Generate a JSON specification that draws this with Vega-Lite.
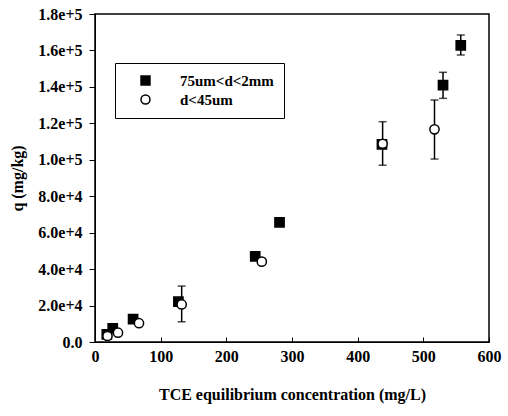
{
  "$schema": "https://vega.github.io/schema/vega-lite/v6.json",
  "width": 394,
  "height": 328,
  "autosize": {"type": "none"},
  "padding": {"left": 95, "top": 14, "right": 19, "bottom": 74},
  "background": "white",
  "config": {
    "view": {"stroke": "black", "strokeWidth": 1.5},
    "font": "Liberation Serif",
    "axis": {
      "grid": false,
      "domainColor": "black",
      "tickColor": "black",
      "labelColor": "black",
      "titleColor": "black",
      "labelFont": "Liberation Serif",
      "titleFont": "Liberation Serif",
      "labelFontSize": 16,
      "titleFontSize": 16,
      "labelFontWeight": "bold",
      "titleFontWeight": "bold",
      "labelOverlap": false,
      "labelFlush": false
    },
    "legend": {
      "labelFont": "Liberation Serif",
      "labelFontSize": 15,
      "labelFontWeight": "bold",
      "labelColor": "black"
    }
  },
  "datasets": {
    "pts": [
      {"c": 18, "q": 4200, "series": "75um<d<2mm"},
      {"c": 27, "q": 7500, "series": "75um<d<2mm"},
      {"c": 58, "q": 12500, "series": "75um<d<2mm"},
      {"c": 127, "q": 22100, "series": "75um<d<2mm"},
      {"c": 244, "q": 47000, "series": "75um<d<2mm"},
      {"c": 281, "q": 65700, "series": "75um<d<2mm"},
      {"c": 437, "q": 108500, "series": "75um<d<2mm"},
      {"c": 530, "q": 141000, "series": "75um<d<2mm"},
      {"c": 557, "q": 162800, "series": "75um<d<2mm"},
      {"c": 19, "q": 3300, "series": "d<45um"},
      {"c": 35, "q": 5100, "series": "d<45um"},
      {"c": 67, "q": 10300, "series": "d<45um"},
      {"c": 132, "q": 20600, "series": "d<45um"},
      {"c": 254, "q": 44100, "series": "d<45um"},
      {"c": 438, "q": 108800, "series": "d<45um"},
      {"c": 517, "q": 116700, "series": "d<45um"}
    ],
    "errs": [
      {"c": 132, "lo": 11100, "hi": 30700},
      {"c": 438, "lo": 97000, "hi": 120900},
      {"c": 517, "lo": 100400, "hi": 132800},
      {"c": 530, "lo": 133700, "hi": 148000},
      {"c": 557, "lo": 157500, "hi": 168500}
    ]
  },
  "layer": [
    {
      "data": {"name": "errs"},
      "mark": {"type": "rule", "color": "black", "strokeWidth": 1.5},
      "encoding": {
        "x": {"field": "c", "type": "quantitative", "scale": {"domain": [0, 600], "nice": false},
          "axis": {"title": "TCE equilibrium concentration (mg/L)", "values": [0, 100, 200, 300, 400, 500, 600], "format": "d", "tickSize": -5, "labelPadding": 11, "titlePadding": 22}},
        "y": {"field": "lo", "type": "quantitative", "scale": {"domain": [0, 180000], "nice": false},
          "axis": {"title": "q (mg/kg)", "values": [0, 20000, 40000, 60000, 80000, 100000, 120000, 140000, 160000, 180000], "labelExpr": "datum.value == 0 ? '0.0' : format(datum.value, '.1e')", "tickSize": 6, "labelPadding": 7, "titlePadding": 12}},
        "y2": {"field": "hi"}
      }
    },
    {
      "data": {"name": "errs"},
      "mark": {"type": "tick", "orient": "horizontal", "color": "black", "size": 8, "thickness": 1.5},
      "encoding": {
        "x": {"field": "c", "type": "quantitative",
          "axis": {"title": "TCE equilibrium concentration (mg/L)", "values": [0, 100, 200, 300, 400, 500, 600], "format": "d", "tickSize": -5, "labelPadding": 11, "titlePadding": 22}},
        "y": {"field": "lo", "type": "quantitative",
          "axis": {"title": "q (mg/kg)", "values": [0, 20000, 40000, 60000, 80000, 100000, 120000, 140000, 160000, 180000], "labelExpr": "datum.value == 0 ? '0.0' : format(datum.value, '.1e')", "tickSize": 6, "labelPadding": 7, "titlePadding": 12}}
      }
    },
    {
      "data": {"name": "errs"},
      "mark": {"type": "tick", "orient": "horizontal", "color": "black", "size": 8, "thickness": 1.5},
      "encoding": {
        "x": {"field": "c", "type": "quantitative",
          "axis": {"title": "TCE equilibrium concentration (mg/L)", "values": [0, 100, 200, 300, 400, 500, 600], "format": "d", "tickSize": -5, "labelPadding": 11, "titlePadding": 22}},
        "y": {"field": "hi", "type": "quantitative",
          "axis": {"title": "q (mg/kg)", "values": [0, 20000, 40000, 60000, 80000, 100000, 120000, 140000, 160000, 180000], "labelExpr": "datum.value == 0 ? '0.0' : format(datum.value, '.1e')", "tickSize": 6, "labelPadding": 7, "titlePadding": 12}}
      }
    },
    {
      "data": {"name": "pts"},
      "mark": {"type": "point", "stroke": "black", "strokeWidth": 1.5, "size": 85, "opacity": 1},
      "encoding": {
        "x": {"field": "c", "type": "quantitative",
          "axis": {"title": "TCE equilibrium concentration (mg/L)", "values": [0, 100, 200, 300, 400, 500, 600], "format": "d", "tickSize": -5, "labelPadding": 11, "titlePadding": 22}},
        "y": {"field": "q", "type": "quantitative",
          "axis": {"title": "q (mg/kg)", "values": [0, 20000, 40000, 60000, 80000, 100000, 120000, 140000, 160000, 180000], "labelExpr": "datum.value == 0 ? '0.0' : format(datum.value, '.1e')", "tickSize": 6, "labelPadding": 7, "titlePadding": 12}},
        "shape": {"field": "series", "type": "nominal", "scale": {"domain": ["75um<d<2mm", "d<45um"], "range": ["square", "circle"]},
          "legend": {"title": null, "orient": "none", "legendX": 20, "legendY": 49, "strokeColor": "black", "fillColor": "white", "padding": 10, "symbolOffset": 13, "labelOffset": 27, "rowPadding": 3, "symbolSize": 80, "symbolStrokeWidth": 1.5}},
        "fill": {"field": "series", "type": "nominal", "scale": {"domain": ["75um<d<2mm", "d<45um"], "range": ["black", "white"]},
          "legend": {"title": null, "orient": "none", "legendX": 20, "legendY": 49, "strokeColor": "black", "fillColor": "white", "padding": 10, "symbolOffset": 13, "labelOffset": 27, "rowPadding": 3, "symbolSize": 80, "symbolStrokeWidth": 1.5}}
      }
    }
  ]
}
